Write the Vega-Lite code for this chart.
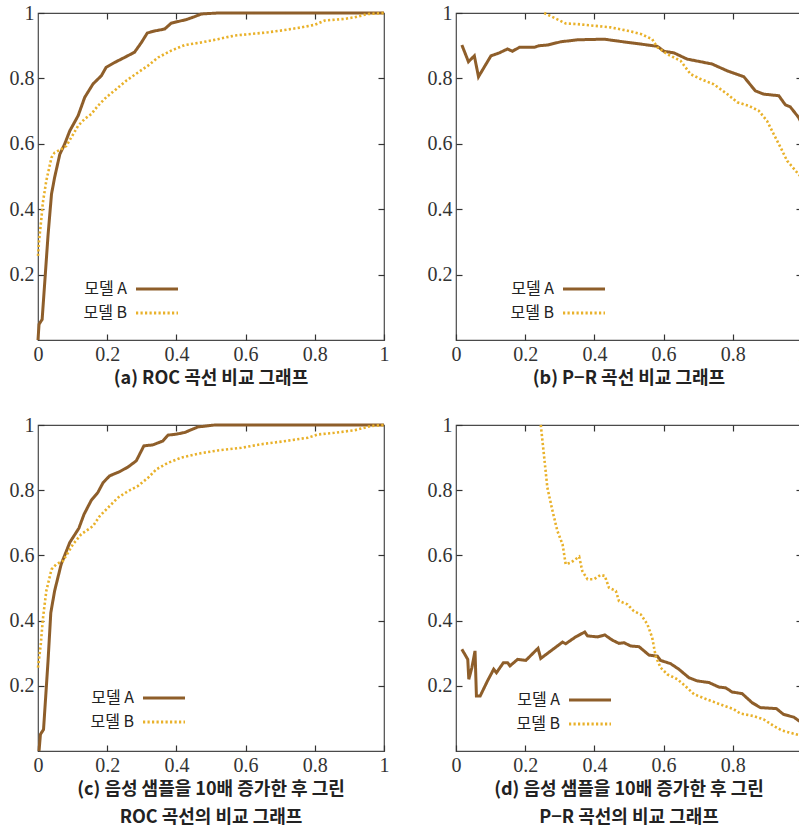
{
  "$schema": "https://vega.github.io/schema/vega-lite/v6.json",
  "padding": {"left": 8, "top": 2, "right": 0, "bottom": 0},
  "datasets": {
    "rocA1": [
      {"model":"모델 A","x":0,"y":0},{"model":"모델 A","x":0.003,"y":0.048},{"model":"모델 A","x":0.012,"y":0.063},{"model":"모델 A","x":0.029,"y":0.32},{"model":"모델 A","x":0.039,"y":0.446},{"model":"모델 A","x":0.048,"y":0.497},{"model":"모델 A","x":0.063,"y":0.568},{"model":"모델 A","x":0.077,"y":0.599},{"model":"모델 A","x":0.092,"y":0.64},{"model":"모델 A","x":0.116,"y":0.686},{"model":"모델 A","x":0.135,"y":0.742},{"model":"모델 A","x":0.159,"y":0.783},{"model":"모델 A","x":0.183,"y":0.808},{"model":"모델 A","x":0.197,"y":0.834},{"model":"모델 A","x":0.222,"y":0.849},{"model":"모델 A","x":0.25,"y":0.864},{"model":"모델 A","x":0.279,"y":0.88},{"model":"모델 A","x":0.299,"y":0.91},{"model":"모델 A","x":0.316,"y":0.939},{"model":"모델 A","x":0.337,"y":0.945},{"model":"모델 A","x":0.366,"y":0.951},{"model":"모델 A","x":0.385,"y":0.969},{"model":"모델 A","x":0.405,"y":0.974},{"model":"모델 A","x":0.429,"y":0.98},{"model":"모델 A","x":0.453,"y":0.989},{"model":"모델 A","x":0.472,"y":0.997},{"model":"모델 A","x":0.52,"y":1},{"model":"모델 A","x":1,"y":1}
    ],
    "rocB1": [
      {"model":"모델 B","x":0,"y":0.257},{"model":"모델 B","x":0.003,"y":0.303},{"model":"모델 B","x":0.01,"y":0.374},{"model":"모델 B","x":0.014,"y":0.42},{"model":"모델 B","x":0.024,"y":0.487},{"model":"모델 B","x":0.039,"y":0.558},{"model":"모델 B","x":0.048,"y":0.573},{"model":"모델 B","x":0.067,"y":0.583},{"model":"모델 B","x":0.082,"y":0.594},{"model":"모델 B","x":0.096,"y":0.619},{"model":"모델 B","x":0.116,"y":0.655},{"model":"모델 B","x":0.135,"y":0.676},{"model":"모델 B","x":0.154,"y":0.691},{"model":"모델 B","x":0.173,"y":0.716},{"model":"모델 B","x":0.197,"y":0.742},{"model":"모델 B","x":0.226,"y":0.767},{"model":"모델 B","x":0.255,"y":0.793},{"model":"모델 B","x":0.289,"y":0.818},{"model":"모델 B","x":0.318,"y":0.839},{"model":"모델 B","x":0.347,"y":0.864},{"model":"모델 B","x":0.385,"y":0.885},{"model":"모델 B","x":0.424,"y":0.902},{"model":"모델 B","x":0.472,"y":0.91},{"model":"모델 B","x":0.52,"y":0.92},{"model":"모델 B","x":0.568,"y":0.931},{"model":"모델 B","x":0.617,"y":0.936},{"model":"모델 B","x":0.665,"y":0.941},{"model":"모델 B","x":0.713,"y":0.948},{"model":"모델 B","x":0.761,"y":0.956},{"model":"모델 B","x":0.8,"y":0.964},{"model":"모델 B","x":0.829,"y":0.977},{"model":"모델 B","x":0.886,"y":0.982},{"model":"모델 B","x":0.915,"y":0.987},{"model":"모델 B","x":0.954,"y":0.997},{"model":"모델 B","x":1,"y":1}
    ],
    "prA1": [
      {"model":"모델 A","x":0.017,"y":0.902},{"model":"모델 A","x":0.036,"y":0.851},{"model":"모델 A","x":0.053,"y":0.869},{"model":"모델 A","x":0.065,"y":0.805},{"model":"모델 A","x":0.101,"y":0.869},{"model":"모델 A","x":0.125,"y":0.878},{"model":"모델 A","x":0.149,"y":0.89},{"model":"모델 A","x":0.163,"y":0.883},{"model":"모델 A","x":0.183,"y":0.895},{"model":"모델 A","x":0.226,"y":0.895},{"model":"모델 A","x":0.24,"y":0.9},{"model":"모델 A","x":0.264,"y":0.902},{"model":"모델 A","x":0.303,"y":0.912},{"model":"모델 A","x":0.351,"y":0.918},{"model":"모델 A","x":0.428,"y":0.92},{"model":"모델 A","x":0.476,"y":0.913},{"model":"모델 A","x":0.534,"y":0.905},{"model":"모델 A","x":0.582,"y":0.898},{"model":"모델 A","x":0.601,"y":0.883},{"model":"모델 A","x":0.63,"y":0.878},{"model":"모델 A","x":0.668,"y":0.859},{"model":"모델 A","x":0.707,"y":0.851},{"model":"모델 A","x":0.74,"y":0.844},{"model":"모델 A","x":0.784,"y":0.823},{"model":"모델 A","x":0.832,"y":0.805},{"model":"모델 A","x":0.865,"y":0.762},{"model":"모델 A","x":0.889,"y":0.752},{"model":"모델 A","x":0.933,"y":0.747},{"model":"모델 A","x":0.952,"y":0.719},{"model":"모델 A","x":0.966,"y":0.713},{"model":"모델 A","x":0.99,"y":0.681},{"model":"모델 A","x":1,"y":0.66}
    ],
    "prB1": [
      {"model":"모델 B","x":0.255,"y":1},{"model":"모델 B","x":0.284,"y":0.985},{"model":"모델 B","x":0.317,"y":0.968},{"model":"모델 B","x":0.351,"y":0.966},{"model":"모델 B","x":0.399,"y":0.961},{"model":"모델 B","x":0.447,"y":0.956},{"model":"모델 B","x":0.495,"y":0.946},{"model":"모델 B","x":0.534,"y":0.936},{"model":"모델 B","x":0.567,"y":0.92},{"model":"모델 B","x":0.582,"y":0.895},{"model":"모델 B","x":0.611,"y":0.874},{"model":"모델 B","x":0.649,"y":0.854},{"model":"모델 B","x":0.678,"y":0.813},{"model":"모델 B","x":0.707,"y":0.798},{"model":"모델 B","x":0.745,"y":0.782},{"model":"모델 B","x":0.784,"y":0.752},{"model":"모델 B","x":0.813,"y":0.727},{"model":"모델 B","x":0.846,"y":0.716},{"model":"모델 B","x":0.875,"y":0.701},{"model":"모델 B","x":0.899,"y":0.67},{"model":"모델 B","x":0.918,"y":0.63},{"model":"모델 B","x":0.938,"y":0.589},{"model":"모델 B","x":0.957,"y":0.548},{"model":"모델 B","x":0.99,"y":0.507},{"model":"모델 B","x":1,"y":0.495}
    ],
    "rocA2": [
      {"model":"모델 A","x":0.003,"y":0},{"model":"모델 A","x":0.007,"y":0.051},{"model":"모델 A","x":0.016,"y":0.066},{"model":"모델 A","x":0.029,"y":0.276},{"model":"모델 A","x":0.037,"y":0.424},{"model":"모델 A","x":0.048,"y":0.491},{"model":"모델 A","x":0.067,"y":0.573},{"model":"모델 A","x":0.092,"y":0.64},{"model":"모델 A","x":0.118,"y":0.683},{"model":"모델 A","x":0.133,"y":0.726},{"model":"모델 A","x":0.154,"y":0.769},{"model":"모델 A","x":0.173,"y":0.793},{"model":"모델 A","x":0.188,"y":0.823},{"model":"모델 A","x":0.207,"y":0.844},{"model":"모델 A","x":0.236,"y":0.857},{"model":"모델 A","x":0.26,"y":0.871},{"model":"모델 A","x":0.284,"y":0.89},{"model":"모델 A","x":0.306,"y":0.936},{"model":"모델 A","x":0.332,"y":0.939},{"model":"모델 A","x":0.361,"y":0.951},{"model":"모델 A","x":0.376,"y":0.969},{"model":"모델 A","x":0.4,"y":0.972},{"model":"모델 A","x":0.424,"y":0.977},{"model":"모델 A","x":0.462,"y":0.994},{"model":"모델 A","x":0.511,"y":1},{"model":"모델 A","x":1,"y":1}
    ],
    "rocB2": [
      {"model":"모델 B","x":0,"y":0.256},{"model":"모델 B","x":0.008,"y":0.327},{"model":"모델 B","x":0.014,"y":0.404},{"model":"모델 B","x":0.024,"y":0.491},{"model":"모델 B","x":0.039,"y":0.557},{"model":"모델 B","x":0.053,"y":0.573},{"model":"모델 B","x":0.072,"y":0.583},{"model":"모델 B","x":0.087,"y":0.609},{"model":"모델 B","x":0.101,"y":0.634},{"model":"모델 B","x":0.125,"y":0.665},{"model":"모델 B","x":0.159,"y":0.69},{"model":"모델 B","x":0.178,"y":0.72},{"model":"모델 B","x":0.202,"y":0.746},{"model":"모델 B","x":0.231,"y":0.777},{"model":"모델 B","x":0.26,"y":0.797},{"model":"모델 B","x":0.289,"y":0.813},{"model":"모델 B","x":0.318,"y":0.838},{"model":"모델 B","x":0.342,"y":0.864},{"model":"모델 B","x":0.376,"y":0.884},{"model":"모델 B","x":0.414,"y":0.9},{"model":"모델 B","x":0.462,"y":0.912},{"model":"모델 B","x":0.52,"y":0.922},{"model":"모델 B","x":0.588,"y":0.93},{"model":"모델 B","x":0.645,"y":0.941},{"model":"모델 B","x":0.703,"y":0.949},{"model":"모델 B","x":0.78,"y":0.961},{"model":"모델 B","x":0.809,"y":0.971},{"model":"모델 B","x":0.857,"y":0.976},{"model":"모델 B","x":0.915,"y":0.984},{"model":"모델 B","x":0.963,"y":0.997},{"model":"모델 B","x":1,"y":1}
    ],
    "prA2": [
      {"model":"모델 A","x":0.017,"y":0.312},{"model":"모델 A","x":0.034,"y":0.281},{"model":"모델 A","x":0.037,"y":0.22},{"model":"모델 A","x":0.046,"y":0.256},{"model":"모델 A","x":0.055,"y":0.307},{"model":"모델 A","x":0.059,"y":0.169},{"model":"모델 A","x":0.07,"y":0.169},{"model":"모델 A","x":0.091,"y":0.215},{"model":"모델 A","x":0.109,"y":0.251},{"model":"모델 A","x":0.117,"y":0.24},{"model":"모델 A","x":0.137,"y":0.271},{"model":"모델 A","x":0.149,"y":0.271},{"model":"모델 A","x":0.156,"y":0.261},{"model":"모델 A","x":0.178,"y":0.281},{"model":"모델 A","x":0.202,"y":0.278},{"model":"모델 A","x":0.237,"y":0.315},{"model":"모델 A","x":0.245,"y":0.284},{"model":"모델 A","x":0.274,"y":0.307},{"model":"모델 A","x":0.308,"y":0.334},{"model":"모델 A","x":0.317,"y":0.329},{"model":"모델 A","x":0.346,"y":0.35},{"model":"모델 A","x":0.372,"y":0.365},{"model":"모델 A","x":0.38,"y":0.353},{"model":"모델 A","x":0.409,"y":0.35},{"model":"모델 A","x":0.43,"y":0.356},{"model":"모델 A","x":0.452,"y":0.34},{"model":"모델 A","x":0.471,"y":0.33},{"model":"모델 A","x":0.486,"y":0.332},{"model":"모델 A","x":0.505,"y":0.322},{"model":"모델 A","x":0.529,"y":0.32},{"model":"모델 A","x":0.558,"y":0.294},{"model":"모델 A","x":0.582,"y":0.291},{"model":"모델 A","x":0.591,"y":0.278},{"model":"모델 A","x":0.62,"y":0.268},{"model":"모델 A","x":0.644,"y":0.251},{"model":"모델 A","x":0.673,"y":0.225},{"model":"모델 A","x":0.697,"y":0.215},{"model":"모델 A","x":0.731,"y":0.21},{"model":"모델 A","x":0.76,"y":0.196},{"model":"모델 A","x":0.779,"y":0.194},{"model":"모델 A","x":0.798,"y":0.181},{"model":"모델 A","x":0.827,"y":0.176},{"model":"모델 A","x":0.856,"y":0.148},{"model":"모델 A","x":0.88,"y":0.133},{"model":"모델 A","x":0.926,"y":0.13},{"model":"모델 A","x":0.947,"y":0.112},{"model":"모델 A","x":0.976,"y":0.104},{"model":"모델 A","x":0.992,"y":0.092},{"model":"모델 A","x":1,"y":0.088}
    ],
    "prB2": [
      {"model":"모델 B","x":0.245,"y":1},{"model":"모델 B","x":0.255,"y":0.9},{"model":"모델 B","x":0.264,"y":0.808},{"model":"모델 B","x":0.279,"y":0.736},{"model":"모델 B","x":0.293,"y":0.675},{"model":"모델 B","x":0.308,"y":0.634},{"model":"모델 B","x":0.317,"y":0.573},{"model":"모델 B","x":0.332,"y":0.578},{"model":"모델 B","x":0.356,"y":0.596},{"model":"모델 B","x":0.365,"y":0.552},{"model":"모델 B","x":0.38,"y":0.527},{"model":"모델 B","x":0.399,"y":0.527},{"model":"모델 B","x":0.418,"y":0.54},{"model":"모델 B","x":0.43,"y":0.537},{"model":"모델 B","x":0.442,"y":0.501},{"model":"모델 B","x":0.462,"y":0.491},{"model":"모델 B","x":0.471,"y":0.46},{"model":"모델 B","x":0.495,"y":0.45},{"model":"모델 B","x":0.514,"y":0.429},{"model":"모델 B","x":0.534,"y":0.419},{"model":"모델 B","x":0.553,"y":0.389},{"model":"모델 B","x":0.567,"y":0.348},{"model":"모델 B","x":0.577,"y":0.291},{"model":"모델 B","x":0.591,"y":0.256},{"model":"모델 B","x":0.611,"y":0.235},{"model":"모델 B","x":0.64,"y":0.22},{"model":"모델 B","x":0.663,"y":0.199},{"model":"모델 B","x":0.688,"y":0.174},{"model":"모델 B","x":0.726,"y":0.158},{"model":"모델 B","x":0.764,"y":0.143},{"model":"모델 B","x":0.803,"y":0.128},{"model":"모델 B","x":0.822,"y":0.115},{"model":"모델 B","x":0.861,"y":0.107},{"model":"모델 B","x":0.889,"y":0.097},{"model":"모델 B","x":0.918,"y":0.077},{"model":"모델 B","x":0.942,"y":0.063},{"model":"모델 B","x":0.99,"y":0.049},{"model":"모델 B","x":1,"y":0.047}
    ]
  },
  "columns": 2,
  "spacing": {"row": 85, "column": 72},
  "bounds": "flush",
  "resolve": {"legend": {"color": "independent", "strokeDash": "independent"}},
  "concat": [
    {
      "width": 346, "height": 327,
      "title": {"text": "(a) ROC 곡선 비교 그래프"},
      "layer": [
        {
          "data": {"name": "rocA1"},
          "mark": {"type": "line", "strokeWidth": 3},
          "encoding": {
            "x": {"field": "x", "type": "quantitative", "scale": {"domain": [0, 1], "nice": false}, "axis": {"orient": "bottom", "values": [0, 0.2, 0.4, 0.6, 0.8, 1], "format": "~g", "title": null, "labelPadding": 10, "labelFont": "Liberation Serif", "labelFontSize": 20}},
            "y": {"field": "y", "type": "quantitative", "scale": {"domain": [0, 1], "nice": false}, "axis": {"orient": "left", "values": [0.2, 0.4, 0.6, 0.8, 1], "format": "~g", "title": null, "labelPadding": 10, "labelFont": "Liberation Serif", "labelFontSize": 20}},
            "color": {"field": "model", "type": "nominal", "scale": {"domain": ["모델 A", "모델 B"], "range": ["#8E5E2A", "#E9B12A"]}, "legend": {"legendX": 109, "legendY": 266}},
            "strokeDash": {"field": "model", "type": "nominal", "scale": {"domain": ["모델 A", "모델 B"], "range": [[1, 0], [2.2, 2.3]]}, "legend": {"legendX": 109, "legendY": 266}}
          }
        },
        {
          "data": {"name": "rocB1"},
          "mark": {"type": "line", "strokeWidth": 2.6},
          "encoding": {
            "x": {"field": "x", "type": "quantitative", "axis": {"orient": "top", "values": [0.2, 0.4, 0.6, 0.8], "labels": false, "title": null}},
            "y": {"field": "y", "type": "quantitative", "axis": {"orient": "right", "values": [0.2, 0.4, 0.6, 0.8], "labels": false, "title": null}},
            "color": {"field": "model", "type": "nominal"},
            "strokeDash": {"field": "model", "type": "nominal"}
          }
        }
      ],
      "resolve": {"axis": {"x": "independent", "y": "independent"}}
    },
    {
      "width": 346, "height": 327,
      "title": {"text": "(b) P−R 곡선 비교 그래프"},
      "layer": [
        {
          "data": {"name": "prA1"},
          "mark": {"type": "line", "strokeWidth": 3},
          "encoding": {
            "x": {"field": "x", "type": "quantitative", "scale": {"domain": [0, 1], "nice": false}, "axis": {"orient": "bottom", "values": [0, 0.2, 0.4, 0.6, 0.8, 1], "format": "~g", "title": null, "labelPadding": 10, "labelFont": "Liberation Serif", "labelFontSize": 20}},
            "y": {"field": "y", "type": "quantitative", "scale": {"domain": [0, 1], "nice": false}, "axis": {"orient": "left", "values": [0.2, 0.4, 0.6, 0.8, 1], "format": "~g", "title": null, "labelPadding": 10, "labelFont": "Liberation Serif", "labelFontSize": 20}},
            "color": {"field": "model", "type": "nominal", "scale": {"domain": ["모델 A", "모델 B"], "range": ["#8E5E2A", "#E9B12A"]}, "legend": {"legendX": 118, "legendY": 266}},
            "strokeDash": {"field": "model", "type": "nominal", "scale": {"domain": ["모델 A", "모델 B"], "range": [[1, 0], [2.2, 2.3]]}, "legend": {"legendX": 118, "legendY": 266}}
          }
        },
        {
          "data": {"name": "prB1"},
          "mark": {"type": "line", "strokeWidth": 2.6},
          "encoding": {
            "x": {"field": "x", "type": "quantitative", "axis": {"orient": "top", "values": [0.2, 0.4, 0.6, 0.8], "labels": false, "title": null}},
            "y": {"field": "y", "type": "quantitative", "axis": {"orient": "right", "values": [0.2, 0.4, 0.6, 0.8], "labels": false, "title": null}},
            "color": {"field": "model", "type": "nominal"},
            "strokeDash": {"field": "model", "type": "nominal"}
          }
        }
      ],
      "resolve": {"axis": {"x": "independent", "y": "independent"}}
    },
    {
      "width": 346, "height": 326,
      "title": {"text": ["(c) 음성 샘플을 10배 증가한 후 그린", "ROC 곡선의 비교 그래프"]},
      "layer": [
        {
          "data": {"name": "rocA2"},
          "mark": {"type": "line", "strokeWidth": 3},
          "encoding": {
            "x": {"field": "x", "type": "quantitative", "scale": {"domain": [0, 1], "nice": false}, "axis": {"orient": "bottom", "values": [0, 0.2, 0.4, 0.6, 0.8, 1], "format": "~g", "title": null, "labelPadding": 10, "labelFont": "Liberation Serif", "labelFontSize": 20}},
            "y": {"field": "y", "type": "quantitative", "scale": {"domain": [0, 1], "nice": false}, "axis": {"orient": "left", "values": [0.2, 0.4, 0.6, 0.8, 1], "format": "~g", "title": null, "labelPadding": 10, "labelFont": "Liberation Serif", "labelFontSize": 20}},
            "color": {"field": "model", "type": "nominal", "scale": {"domain": ["모델 A", "모델 B"], "range": ["#8E5E2A", "#E9B12A"]}, "legend": {"legendX": 116, "legendY": 263}},
            "strokeDash": {"field": "model", "type": "nominal", "scale": {"domain": ["모델 A", "모델 B"], "range": [[1, 0], [2.2, 2.3]]}, "legend": {"legendX": 116, "legendY": 263}}
          }
        },
        {
          "data": {"name": "rocB2"},
          "mark": {"type": "line", "strokeWidth": 2.6},
          "encoding": {
            "x": {"field": "x", "type": "quantitative", "axis": {"orient": "top", "values": [0.2, 0.4, 0.6, 0.8], "labels": false, "title": null}},
            "y": {"field": "y", "type": "quantitative", "axis": {"orient": "right", "values": [0.2, 0.4, 0.6, 0.8], "labels": false, "title": null}},
            "color": {"field": "model", "type": "nominal"},
            "strokeDash": {"field": "model", "type": "nominal"}
          }
        }
      ],
      "resolve": {"axis": {"x": "independent", "y": "independent"}}
    },
    {
      "width": 346, "height": 326,
      "title": {"text": ["(d) 음성 샘플을 10배 증가한 후 그린", "P−R 곡선의 비교 그래프"]},
      "layer": [
        {
          "data": {"name": "prA2"},
          "mark": {"type": "line", "strokeWidth": 3},
          "encoding": {
            "x": {"field": "x", "type": "quantitative", "scale": {"domain": [0, 1], "nice": false}, "axis": {"orient": "bottom", "values": [0, 0.2, 0.4, 0.6, 0.8, 1], "format": "~g", "title": null, "labelPadding": 10, "labelFont": "Liberation Serif", "labelFontSize": 20}},
            "y": {"field": "y", "type": "quantitative", "scale": {"domain": [0, 1], "nice": false}, "axis": {"orient": "left", "values": [0.2, 0.4, 0.6, 0.8, 1], "format": "~g", "title": null, "labelPadding": 10, "labelFont": "Liberation Serif", "labelFontSize": 20}},
            "color": {"field": "model", "type": "nominal", "scale": {"domain": ["모델 A", "모델 B"], "range": ["#8E5E2A", "#E9B12A"]}, "legend": {"legendX": 124, "legendY": 265}},
            "strokeDash": {"field": "model", "type": "nominal", "scale": {"domain": ["모델 A", "모델 B"], "range": [[1, 0], [2.2, 2.3]]}, "legend": {"legendX": 124, "legendY": 265}}
          }
        },
        {
          "data": {"name": "prB2"},
          "mark": {"type": "line", "strokeWidth": 2.6},
          "encoding": {
            "x": {"field": "x", "type": "quantitative", "axis": {"orient": "top", "values": [0.2, 0.4, 0.6, 0.8], "labels": false, "title": null}},
            "y": {"field": "y", "type": "quantitative", "axis": {"orient": "right", "values": [0.2, 0.4, 0.6, 0.8], "labels": false, "title": null}},
            "color": {"field": "model", "type": "nominal"},
            "strokeDash": {"field": "model", "type": "nominal"}
          }
        }
      ],
      "resolve": {"axis": {"x": "independent", "y": "independent"}}
    }
  ],
  "config": {
    "view": {"stroke": "#4a4a4a", "strokeWidth": 1.2},
    "axis": {"domain": false, "grid": false, "tickSize": -6, "tickColor": "#333333", "tickWidth": 1.2, "labelFont": "Liberation Serif", "labelFontSize": 20, "labelColor": "#333333", "labelFlush": false, "labelOverlap": false},
    "title": {"orient": "bottom", "font": "Noto Sans CJK KR", "fontWeight": "bold", "fontSize": 18, "color": "#222222", "offset": 6, "lineHeight": 28, "anchor": "middle"},
    "legend": {"orient": "none", "title": null, "padding": 0, "symbolType": "M-2.5,0H2.5", "symbolSize": 282, "symbolStrokeWidth": 2.8, "labelFont": "Noto Sans CJK KR", "labelFontSize": 16, "labelColor": "#222222", "labelAlign": "right", "labelOffset": -40, "rowPadding": 6, "labelExpr": "replace(datum.label, ' ', '\u2002')"}
  }
}
